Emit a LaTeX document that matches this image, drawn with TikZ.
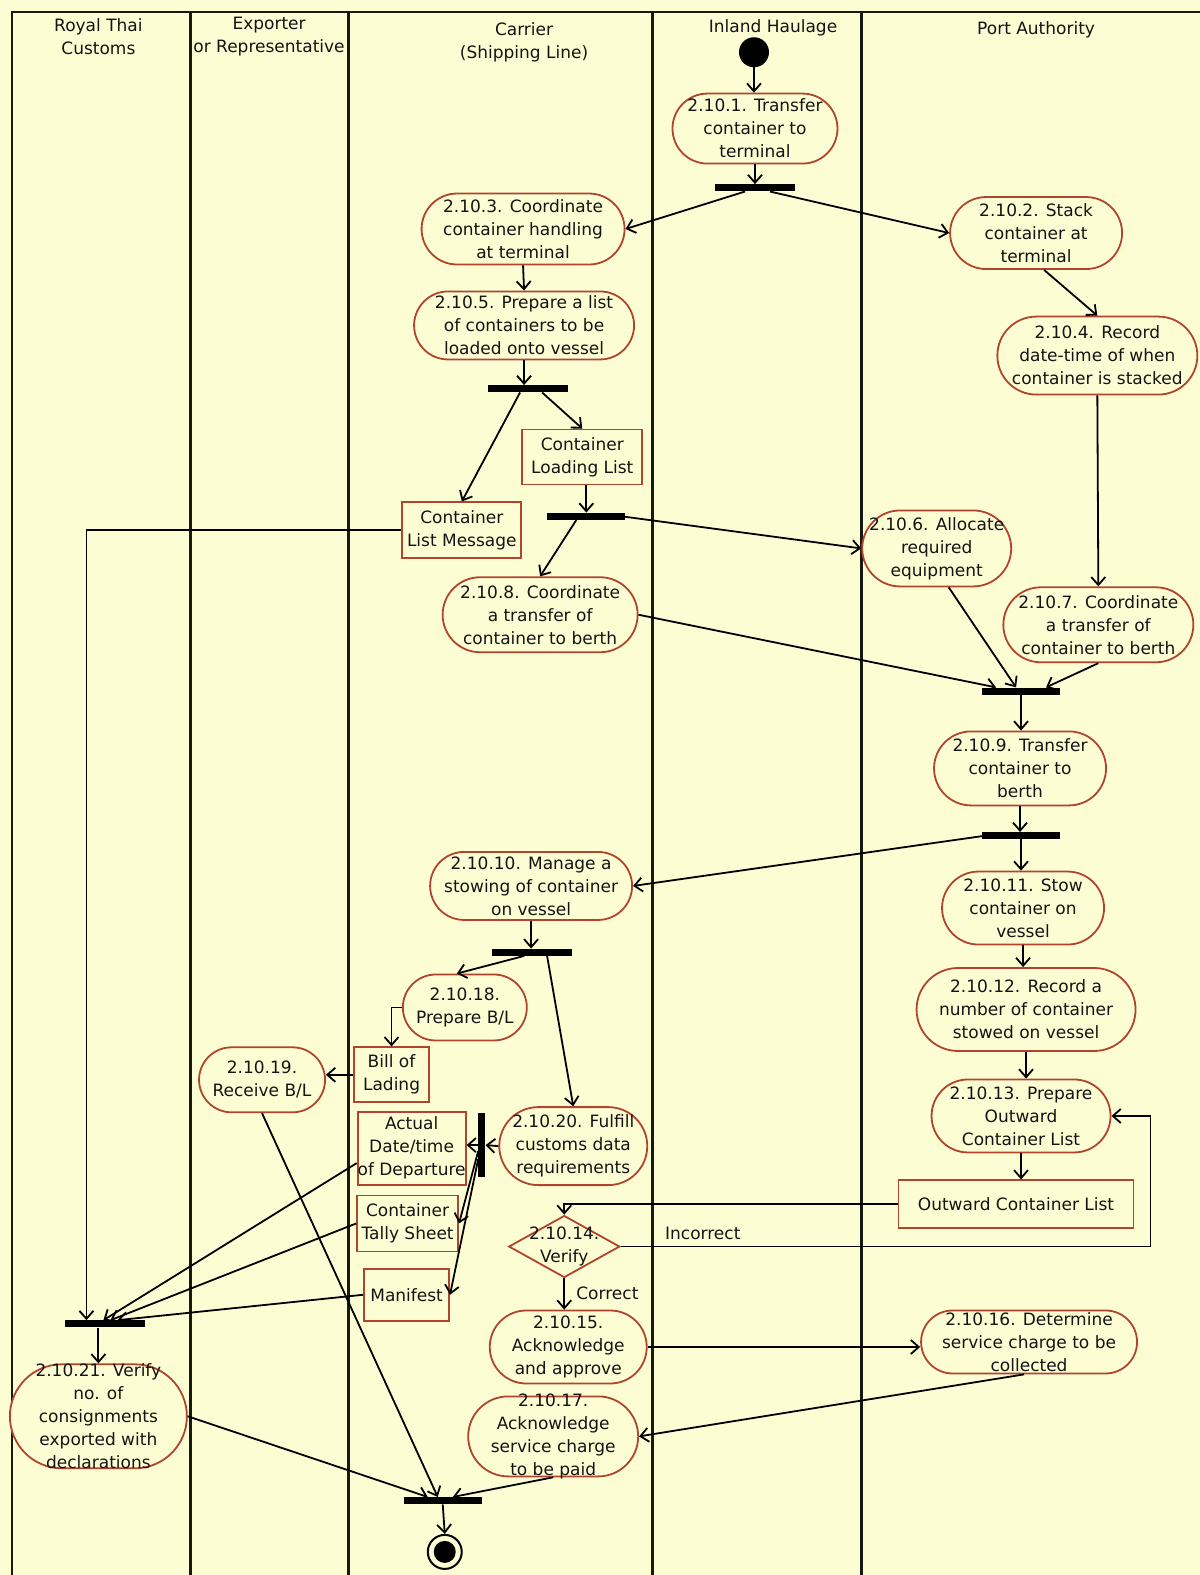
\documentclass[tikz,border=0pt]{standalone}
\usepackage{fontspec}
\setmainfont{DejaVu Sans}
\usetikzlibrary{arrows.meta,shapes.misc,shapes.geometric,calc}
\definecolor{lanebg}{RGB}{253,253,212}
\definecolor{actred}{RGB}{176,68,46}
\definecolor{laneline}{RGB}{24,24,18}
\definecolor{ink}{RGB}{20,20,20}

% action state: stadium outline plus a centred caption node
\newcommand{\actnode}[5]{%
  \node[act, minimum width=#3pt, minimum height=#4pt] (#1) at (#2) {};
  \node[lbl, align=center] (#1-t) at (#1.center) {#5};
}

\begin{document}
\begin{tikzpicture}[x=1.004pt,y=-1.0045pt,
  every node/.style={font=\fontsize{17}{23}\selectfont, text=ink},
  act/.style={rounded rectangle, draw=actred, line width=1.8pt, fill=lanebg, inner sep=0pt},
  obj/.style={rectangle, draw=actred, line width=1.8pt, fill=lanebg,
              inner sep=0pt, align=center},
  bar/.style={rectangle, fill=black, inner sep=0pt, minimum height=7pt},
  vbar/.style={rectangle, fill=black, inner sep=0pt, minimum width=7pt},
  flow/.style={draw=black, line width=1.8pt, -{Straight Barb[length=8pt,width=14pt]}},
  lane/.style={draw=laneline, line width=2.6pt},
  lbl/.style={inner sep=0pt},
]

% canvas and swimlanes
\fill[lanebg] (0,0) rectangle (1195,1568);
\useasboundingbox (0,0) rectangle (1195,1568);
\draw[lane] (12,1568) -- (12,12) -- (1195,12);
\foreach \lx in {190,347,650,858} \draw[lane] (\lx,12) -- (\lx,1568);

% lane headings
\node[lbl, align=center] (hcus) at (98,37) {Royal Thai\\Customs};
\node[lbl, align=center] (hexp) at (268,36) {Exporter\\or Representative};
\node[lbl, align=center] (hcar) at (522,42) {Carrier\\(Shipping Line)};
\node[lbl] (hinl) at (770,28) {Inland Haulage};
\node[lbl] (hport) at (1032,30) {Port Authority};

% initial and final states
\node[circle, fill=black, minimum size=30pt, inner sep=0pt] (start) at (751,52) {};
\node[circle, draw=black, line width=2pt, fill=lanebg, minimum size=34pt, inner sep=0pt] (end) at (443,1545) {};
\node[circle, fill=black, minimum size=22pt, inner sep=0pt] (endin) at (443,1545) {};

% actions
\actnode{n1}{752,128}{165}{70}{2.10.1. Transfer\\container to\\terminal}
\actnode{n3}{521,228}{203}{71}{2.10.3. Coordinate\\container handling\\at terminal}
\actnode{n2}{1032,232}{172}{72}{2.10.2. Stack\\container at\\terminal}
\actnode{n5}{522,324}{220}{68}{2.10.5. Prepare a list\\of containers to be\\loaded onto vessel}
\actnode{n4}{1093,354}{200}{78}{2.10.4. Record\\date-time of when\\container is stacked}
\actnode{n6}{933,546}{149}{76}{2.10.6. Allocate\\required\\equipment}
\actnode{n8}{538,612}{195}{75}{2.10.8. Coordinate\\a transfer of\\container to berth}
\actnode{n7}{1094,622}{190}{75}{2.10.7. Coordinate\\a transfer of\\container to berth}
\actnode{n9}{1016,765}{172}{74}{2.10.9. Transfer\\container to\\berth}
\actnode{n10}{529,882}{202}{68}{2.10.10. Manage a\\stowing of container\\on vessel}
\actnode{n11}{1019,904}{162}{73}{2.10.11. Stow\\container on\\vessel}
\actnode{n18}{463,1003}{124}{66}{2.10.18.\\Prepare B/L}
\actnode{n12}{1022,1005}{219}{83}{2.10.12. Record a\\number of container\\stowed on vessel}
\actnode{n19}{261,1075}{126}{65}{2.10.19.\\Receive B/L}
\actnode{n13}{1017,1111}{179}{73}{2.10.13. Prepare\\Outward\\Container List}
\actnode{n20}{571,1141}{148}{78}{2.10.20. Fulfill\\customs data\\requirements}
\actnode{n15}{566,1341}{157}{73}{2.10.15.\\Acknowledge\\and approve}
\actnode{n16}{1025,1336}{216}{63}{2.10.16. Determine\\service charge to be\\collected}
\actnode{n21}{98,1410}{177}{104}{2.10.21. Verify\\no. of\\consignments\\exported with\\declarations}
\actnode{n17}{551,1430}{170}{80}{2.10.17.\\Acknowledge\\service charge\\to be paid}

% decision
\node[diamond, draw=actred, line width=1.8pt, fill=lanebg, minimum width=111pt, minimum height=62pt, inner sep=0pt] (v14) at (562,1241) {};
\node[lbl, align=center] (v14t) at (562,1241) {2.10.14.\\Verify};

% objects
\node[obj, minimum width=120pt, minimum height=55pt] (cll) at (580,455) {Container\\Loading List};
\node[obj, minimum width=119pt, minimum height=56pt] (clm) at (460,528) {Container\\List Message};
\node[obj, minimum width=75pt, minimum height=55pt] (bol) at (390,1070) {Bill of\\Lading};
\node[obj, minimum width=101pt, minimum height=73pt] (adt) at (410,1143) {Actual\\Date/time\\of Departure};
\node[obj, minimum width=235pt, minimum height=48pt] (ocl) at (1012,1199) {Outward Container List};
\node[obj, minimum width=101pt, minimum height=56pt] (cts) at (406,1218) {Container\\Tally Sheet};
\node[obj, minimum width=85pt, minimum height=52pt] (man) at (405,1289) {Manifest};

% fork / join bars
\node[bar, minimum width=80pt] (f1) at (752,187) {};
\node[bar, minimum width=80pt] (f2) at (526,387) {};
\node[bar, minimum width=78pt] (f3) at (584,514) {};
\node[bar, minimum width=78pt] (j1) at (1017,688) {};
\node[bar, minimum width=78pt] (f4) at (1017,832) {};
\node[bar, minimum width=80pt] (f5) at (530,948) {};
\node[vbar, minimum height=64pt] (vb) at (480,1140) {};
\node[bar, minimum width=80pt] (j2) at (105,1318) {};
\node[bar, minimum width=78pt] (j3) at (441,1494) {};

% guard labels
\node[lbl] (lincorrect) at (700,1228) {Incorrect};
\node[lbl] (lcorrect) at (605,1288) {Correct};

% control and object flows
\draw[flow] (start.south) -- (start.south |- n1.north);
\draw[flow] (n1.south) -- (f1.north);
\draw[flow] ([xshift=-10pt]f1.south) -- (n3.east);
\draw[flow] ([xshift=15pt]f1.south) -- (n2.west);
\draw[flow] (n3.south) -- (n5.north);
\draw[flow] ([xshift=8pt]n2.south) -- (n4.north);
\draw[flow] (n5.south) -- (n5.south |- f2.north);
\draw[flow] ([xshift=-8pt]f2.south) -- (clm.north);
\draw[flow] ([xshift=14pt]f2.south) -- (cll.north);
\draw[flow] (f3.north |- cll.south) -- (f3.north);
\draw[flow] ([xshift=-10pt]f3.south) -- (n8.north);
\draw[flow] ([xshift=-4pt]f3.east) -- (n6.west);
\draw[flow] (clm.west) -| ([xshift=-19pt]j2.north);
\draw[flow] (n4.south) -- (n7.north);
\draw[flow] ([xshift=12pt]n6.south) -- ([xshift=-5pt]j1.north);
\draw[flow] (n8.east) -- ([xshift=-25pt]j1.north);
\draw[flow] (n7.south) -- ([xshift=25pt]j1.north);
\draw[flow] (j1.south) -- (j1.south |- n9.north);
\draw[flow] (n9.south) -- (n9.south |- f4.north);
\draw[flow] ([xshift=3pt]f4.west) -- (n10.east);
\draw[flow] (f4.south) -- (f4.south |- n11.north);
\draw[flow] (n11.south) -- (n11.south |- n12.north);
\draw[flow] (n10.south) -- (n10.south |- f5.north);
\draw[flow] ([xshift=-8pt]f5.south) -- ([xshift=-8pt]n18.north);
\draw[flow] ([xshift=15pt]f5.south) -- (n20.north);
\draw[flow] (n18.west) -| (bol.north);
\draw[flow] (bol.west) -- (bol.west -| n19.east);
\draw[flow] (n19.south) -- ([xshift=-5pt]j3.north);
\draw[flow] (n12.south) -- (n12.south |- n13.north);
\draw[flow] (n20.west) -- (vb.east);
\draw[flow] (vb.west) -- (vb.west -| adt.east);
\draw[flow] ([yshift=-6pt]vb.west) -- (cts.east);
\draw[flow] ([yshift=-14pt]vb.west) -- (man.east);
\draw[flow] ([yshift=-15pt]adt.west) -- ([xshift=-2pt]j2.north);
\draw[flow] (cts.west) -- ([xshift=5pt]j2.north);
\draw[flow] (man.west) -- ([xshift=12pt]j2.north);
\draw[flow] (n21.north |- j2.south) -- (n21.north);
\draw[flow] (n13.south) -- (n13.south |- ocl.north);
\draw[flow] (ocl.west) -| (v14.north);
\draw[flow] (v14.east) -- (1146,1241) |- (n13.east);
\draw[flow] (v14.south) -- (v14.south |- n15.north);
\draw[flow] (n15.east) -- (n15.east -| n16.west);
\draw[flow] ([xshift=-5pt]n16.south) -- (n17.east);
\draw[flow] (n21.east) -- ([xshift=-15pt]j3.north);
\draw[flow] (n17.south) -- ([xshift=10pt]j3.north);
\draw[flow] (j3.south) -- (end.north);
\end{tikzpicture}
\end{document}
